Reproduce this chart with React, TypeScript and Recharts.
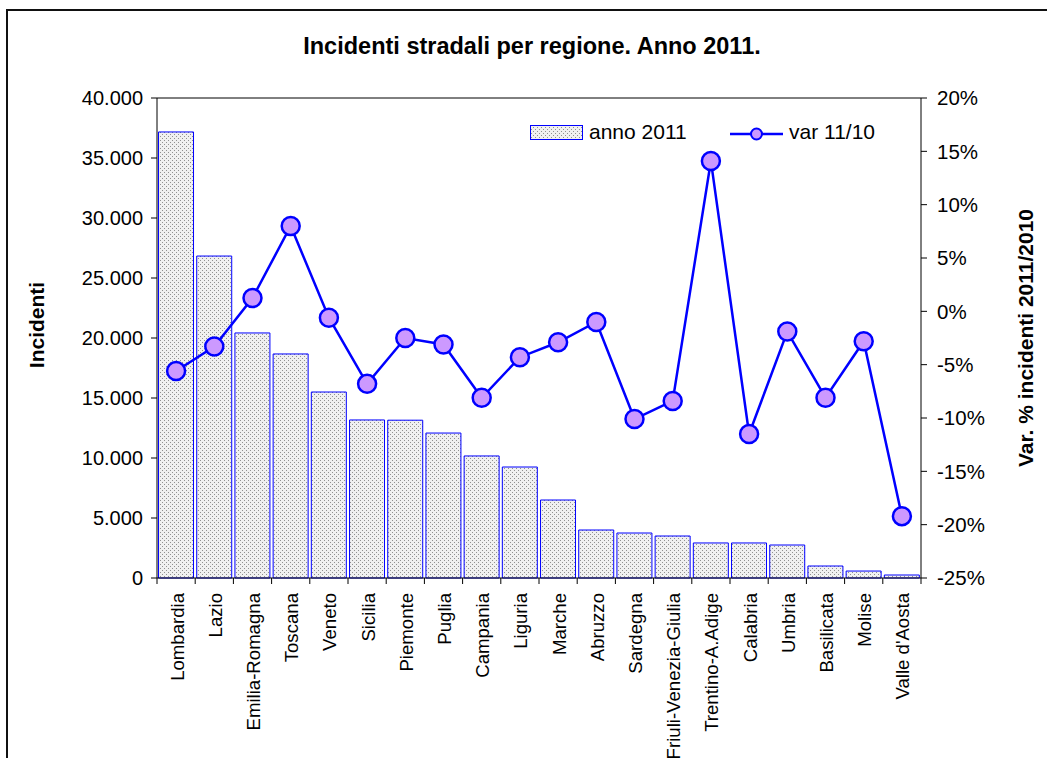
import { ComposedChart, Bar, Line, XAxis, YAxis, Legend, ReferenceLine } from "recharts";

const regions = [
  "Lombardia", "Lazio", "Emilia-Romagna", "Toscana", "Veneto", "Sicilia", "Piemonte", "Puglia",
  "Campania", "Liguria", "Marche", "Abruzzo", "Sardegna", "Friuli-Venezia-Giulia", "Trentino-A.Adige",
  "Calabria", "Umbria", "Basilicata", "Molise", "Valle d'Aosta",
];
const incidenti2011 = [
  37170, 26830, 20420, 18670, 15500, 13170, 13150, 12080, 10170, 9250,
  6500, 4000, 3750, 3500, 2920, 2920, 2750, 1000, 580, 250,
];
const var1110 = [
  -5.6, -3.3, 1.25, 8.0, -0.6, -6.8, -2.5, -3.1, -8.1, -4.3,
  -2.9, -1.0, -10.1, -8.4, 14.1, -11.5, -1.9, -8.1, -2.8, -19.2,
];
const leftTicks = [0, 5000, 10000, 15000, 20000, 25000, 30000, 35000, 40000];
const rightTicks = [-25, -20, -15, -10, -5, 0, 5, 10, 15, 20];

const data = regions.map((r, i) => ({ region: r, anno: incidenti2011[i], variazione: var1110[i] }));

const FONT = "'Liberation Sans', Arial, sans-serif";
const BLUE = "#0000ff";
const PURPLE = "#cc99ff";
const PLOT_W = 764;
const half = PLOT_W / regions.length / 2;

const thousands = (n: number) => String(n).replace(/\B(?=(\d{3})+(?!\d))/g, ".");

// category labels rotated, with tick marks on the category boundaries (Excel style)
function RegionTick(props: any) {
  const { x, y, payload, index } = props;
  return (
    <g>
      <line x1={x - half} y1={y - 6} x2={x - half} y2={y} stroke="#000" />
      {index === regions.length - 1 && <line x1={x + half} y1={y - 6} x2={x + half} y2={y} stroke="#000" />}
      <text
        x={0}
        y={0}
        transform={`translate(${x + 1},${y + 9}) rotate(-90)`}
        textAnchor="end"
        dominantBaseline="central"
        fontSize={18.6}
        fontFamily={FONT}
        fill="#000"
      >
        {payload.value}
      </text>
    </g>
  );
}

function Stipple({ id }: { id: string }) {
  return (
    <pattern id={id} width={4} height={4} patternUnits="userSpaceOnUse">
      <rect width={4} height={4} fill="#f0f0f0" />
      <rect x={0} y={0} width={1} height={1} fill="#909090" />
      <rect x={2} y={2} width={1} height={1} fill="#909090" />
    </pattern>
  );
}

function LegendBox() {
  return (
    <div style={{ position: "relative", width: 400, height: 30, fontFamily: FONT, fontSize: 21, color: "#000" }}>
      <svg width={60} height={20} style={{ position: "absolute", left: 0, top: 6 }}>
        <defs>
          <Stipple id="stippleLegend" />
        </defs>
        <rect x={3.5} y={0.5} width={52} height={14} fill="url(#stippleLegend)" stroke={BLUE} />
      </svg>
      <span style={{ position: "absolute", left: 62, top: 1, whiteSpace: "nowrap" }}>anno 2011</span>
      <svg width={60} height={24} style={{ position: "absolute", left: 201, top: 3 }}>
        <line x1={2} y1={12} x2={55} y2={12} stroke={BLUE} strokeWidth={2.5} />
        <circle cx={28.5} cy={12} r={5.5} fill={PURPLE} stroke={BLUE} strokeWidth={2} />
      </svg>
      <span style={{ position: "absolute", left: 262, top: 1, whiteSpace: "nowrap" }}>var 11/10</span>
    </div>
  );
}

export default function App() {
  return (
    <div style={{ position: "absolute", left: 0, top: 0, width: 1047, height: 758, overflow: "hidden", background: "#fff", fontFamily: FONT }}>
      <div style={{ position: "absolute", left: 6, top: 9, width: 1100, height: 800, border: "2px solid #111", boxSizing: "border-box" }} />
      <div style={{ position: "absolute", left: 0, width: 1064, top: 33, textAlign: "center", fontWeight: "bold", fontSize: 23.5 }}>
        Incidenti stradali per regione. Anno 2011.
      </div>
      <div style={{ position: "absolute", left: 37, top: 325, transform: "translate(-50%,-50%) rotate(-90deg)", fontWeight: "bold", fontSize: 21, whiteSpace: "nowrap" }}>
        Incidenti
      </div>
      <div style={{ position: "absolute", left: 1026, top: 338, transform: "translate(-50%,-50%) rotate(-90deg)", fontWeight: "bold", fontSize: 21, whiteSpace: "nowrap" }}>
        Var. % incidenti 2011/2010
      </div>
      <ComposedChart
        width={1047}
        height={758}
        data={data}
        margin={{ top: 98, right: 46, bottom: 10, left: 77 }}
        barCategoryGap="4%"
        style={{ position: "absolute", left: 0, top: 0 }}
      >
        <defs>
          <Stipple id="stippleBar" />
        </defs>
        <XAxis
          dataKey="region"
          interval={0}
          height={170}
          tickLine={false}
          tickSize={6}
          tickMargin={0}
          axisLine={{ stroke: "#000" }}
          tick={<RegionTick />}
        />
        <YAxis
          yAxisId="left"
          width={80}
          domain={[0, 40000]}
          ticks={leftTicks}
          interval={0}
          tickFormatter={thousands}
          axisLine={{ stroke: "#000" }}
          tickLine={{ stroke: "#000" }}
          tickSize={6}
          tickMargin={8}
          tick={{ fill: "#000", fontSize: 20, fontFamily: FONT }}
        />
        <YAxis
          yAxisId="right"
          orientation="right"
          width={80}
          domain={[-25, 20]}
          ticks={rightTicks}
          interval={0}
          tickFormatter={(v: number) => `${v}%`}
          axisLine={{ stroke: "#000" }}
          tickLine={{ stroke: "#000" }}
          tickSize={6}
          tickMargin={10}
          tick={{ fill: "#000", fontSize: 20.5, fontFamily: FONT }}
        />
        <ReferenceLine yAxisId="left" y={40000} stroke="#000" />
        <Legend
          layout="horizontal"
          verticalAlign="middle"
          align="center"
          content={<LegendBox />}
          wrapperStyle={{ position: "absolute", left: 527, top: 119, width: 400, height: 30 }}
        />
        <Bar yAxisId="left" dataKey="anno" fill="url(#stippleBar)" stroke={BLUE} strokeWidth={1} isAnimationActive={false} />
        <Line
          yAxisId="right"
          dataKey="variazione"
          type="linear"
          stroke={BLUE}
          strokeWidth={2.5}
          dot={{ r: 9, fill: PURPLE, stroke: BLUE, strokeWidth: 2.5 }}
          activeDot={false}
          isAnimationActive={false}
        />
      </ComposedChart>
    </div>
  );
}
